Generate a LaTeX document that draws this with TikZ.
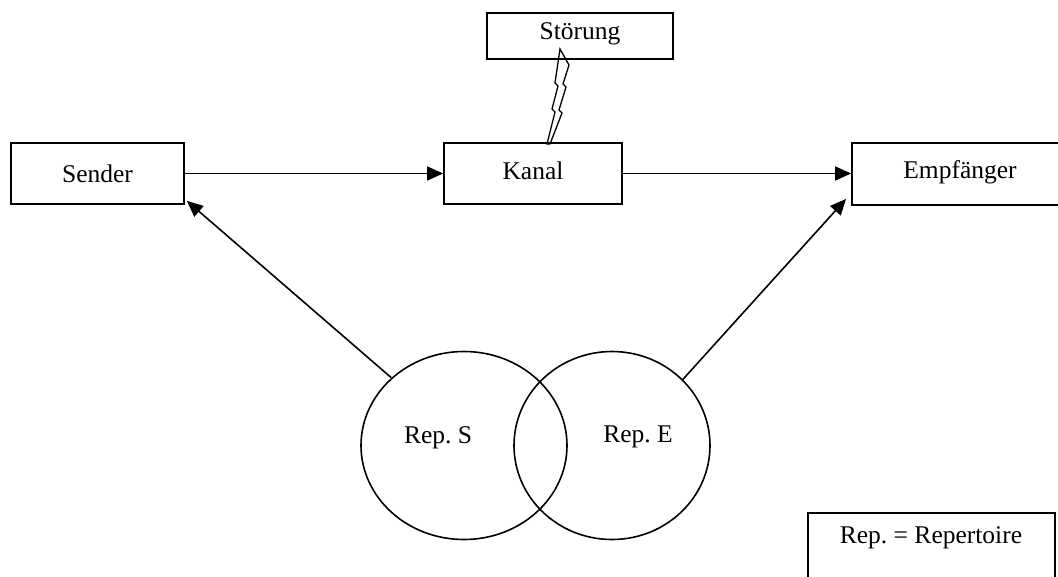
\documentclass[tikz,border=0pt]{standalone}
\usepackage{fontspec}
\setmainfont{Liberation Serif}
\frenchspacing
\usetikzlibrary{shapes.geometric,arrows.meta}
\tikzset{
  box/.style={draw, line width=1.8pt, rectangle, inner sep=0pt},
  rep/.style={draw, line width=1.6pt, ellipse, inner sep=0pt},
  txt/.style={inner sep=0pt, font=\fontsize{25.5}{30}\selectfont},
  arr/.style={line width=1.6pt, -{Triangle[length=16pt,width=14pt]}},
}
\begin{document}
\begin{tikzpicture}[x=1pt,y=-1pt]
\useasboundingbox (0,0) rectangle (1058,576);
% boxes
\node[box, minimum width=173pt, minimum height=61pt] (sender) at (97.5,173.5) {};
\node[txt] at (sender.center) {Sender};
\node[box, minimum width=178pt, minimum height=61pt] (kanal) at (533,173.5) {};
\node[txt] at ([yshift=3pt]kanal.center) {Kanal};
\node[box, minimum width=216pt, minimum height=62pt] (empf) at (960,174) {};
\node[txt] at ([yshift=2pt]empf.center) {Empfänger};
\node[box, minimum width=186pt, minimum height=46pt] (stoer) at (580,36) {};
\node[txt] at ([yshift=2pt]stoer.center) {Störung};
% lightning
\draw[line width=1.3pt, line join=miter]
  (560,49) -- (569,65) -- (563,84) -- (566,87) -- (559,110) -- (562,113) -- (550,144)
  -- (547,144) -- (555,112) -- (552,109) -- (558,86) -- (555,83) -- cycle;
% circles
\node[rep, minimum width=206pt, minimum height=188pt] (repS) at (464,445.5) {};
\node[rep, minimum width=196pt, minimum height=188pt] (repE) at (612,445.5) {};
\node[txt] at (438,438) {Rep. S};
\node[txt] at (638,437) {Rep. E};
% legend
\node[box, minimum width=247pt, minimum height=88pt, anchor=north west] (legend) at (807,512) {};
\node[txt] at (931,538) {Rep. = Repertoire};
% arrows
\draw[arr] (sender.east) -- (kanal.west);
\draw[arr] (kanal.east) -- (kanal.east -| empf.west);
\draw[arr] (repS.137.6) -- ([shift={(2pt,4pt)}]sender.south east);
\draw[arr] (repE.43.9) -- ([shift={(-5pt,7pt)}]empf.south west);
\end{tikzpicture}
\end{document}
